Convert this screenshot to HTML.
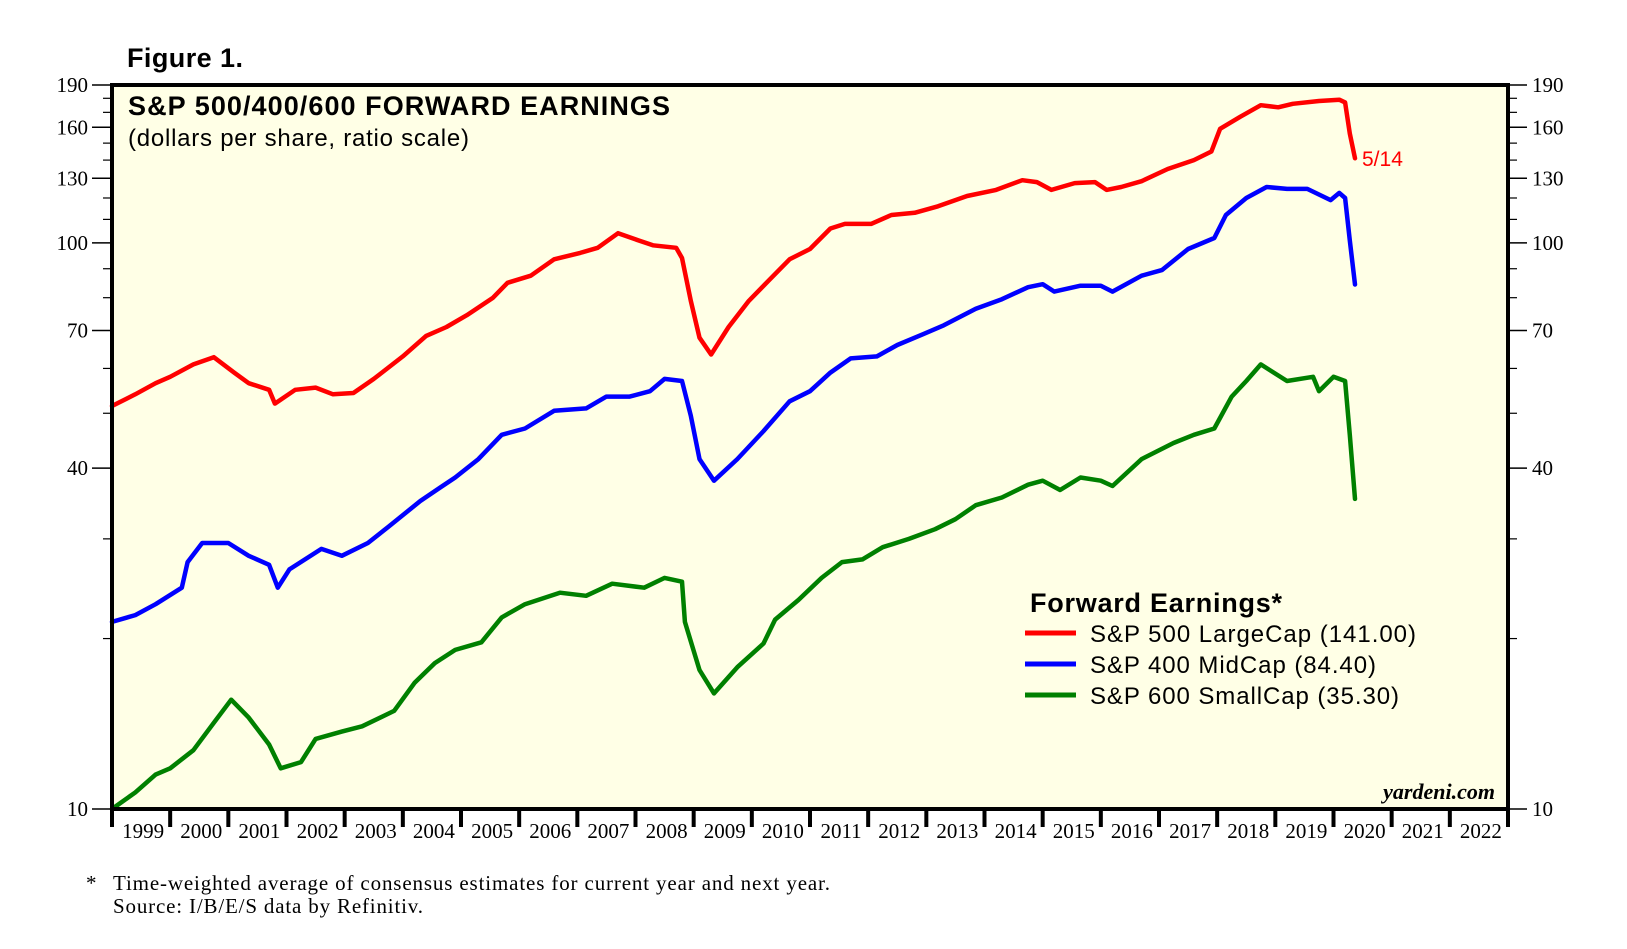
<!DOCTYPE html>
<html><head><meta charset="utf-8"><style>
html,body{margin:0;padding:0;background:#fff;}
svg{display:block;}
</style></head><body>
<svg id="chart" width="1627" height="949" viewBox="0 0 1627 949" xmlns="http://www.w3.org/2000/svg">
<text x="127" y="67" font-family="Liberation Sans, sans-serif" font-weight="bold" font-size="27" textLength="116">Figure 1.</text>
<rect x="112" y="85" width="1396" height="724" fill="#ffffe6"/>
<g id="series"></g>
<rect x="112" y="85" width="1396" height="724" fill="none" stroke="#000" stroke-width="4"/>
<text x="128" y="115" font-family="Liberation Sans, sans-serif" font-weight="bold" font-size="27" textLength="542">S&amp;P 500/400/600 FORWARD EARNINGS</text>
<text x="128" y="146" font-family="Liberation Sans, sans-serif" font-size="24" textLength="341">(dollars per share, ratio scale)</text>
<g id="axes"></g>
<text x="1362" y="166" font-family="Liberation Sans, sans-serif" font-size="21" fill="#ff0000">5/14</text>
<text x="1030" y="612" font-family="Liberation Sans, sans-serif" font-weight="bold" font-size="27" textLength="252">Forward Earnings*</text>
<line x1="1025" y1="633" x2="1076" y2="633" stroke="#ff0000" stroke-width="5"/>
<text x="1090" y="642" font-family="Liberation Sans, sans-serif" font-size="24" textLength="326">S&amp;P 500 LargeCap (141.00)</text>
<line x1="1025" y1="664" x2="1076" y2="664" stroke="#0000ff" stroke-width="5"/>
<text x="1090" y="673" font-family="Liberation Sans, sans-serif" font-size="24" textLength="286">S&amp;P 400 MidCap (84.40)</text>
<line x1="1025" y1="695" x2="1076" y2="695" stroke="#008000" stroke-width="5"/>
<text x="1090" y="704" font-family="Liberation Sans, sans-serif" font-size="24" textLength="309">S&amp;P 600 SmallCap (35.30)</text>
<text x="1495" y="799" text-anchor="end" font-family="Liberation Serif, serif" font-style="italic" font-weight="bold" font-size="22">yardeni.com</text>
<text x="86" y="890" font-family="Liberation Serif, serif" font-size="21">*</text>
<text x="113" y="890" font-family="Liberation Serif, serif" font-size="21" textLength="717">Time-weighted average of consensus estimates for current year and next year.</text>
<text x="113" y="913" font-family="Liberation Serif, serif" font-size="21" textLength="310">Source: I/B/E/S data by Refinitiv.</text>
</svg>
<script>
const yearLabels = [1999,2000,2001,2002,2003,2004,2005,2006,2007,2008,2009,2010,2011,2012,2013,2014,2015,2016,2017,2018,2019,2020,2021,2022];
const majorTicks = [190,160,130,100,70,40,10];
const minorTicks = [180,170,150,140,120,110,90,80,60,50,30,20];
const sp500Dates = [1999.0,1999.4,1999.75,2000.0,2000.4,2000.75,2001.1,2001.35,2001.7,2001.8,2002.15,2002.5,2002.8,2003.15,2003.5,2004.0,2004.4,2004.75,2005.1,2005.55,2005.8,2006.2,2006.6,2007.05,2007.35,2007.7,2008.05,2008.3,2008.7,2008.8,2008.95,2009.1,2009.3,2009.6,2009.95,2010.3,2010.65,2011.0,2011.35,2011.6,2012.05,2012.4,2012.8,2013.2,2013.7,2014.2,2014.65,2014.9,2015.15,2015.55,2015.9,2016.1,2016.35,2016.7,2017.15,2017.6,2017.9,2018.05,2018.4,2018.75,2019.05,2019.3,2019.75,2020.1,2020.2,2020.28,2020.37];
const sp500Values = [51.5,54,56.5,58,61,62.8,59,56.5,55,52,55,55.5,54,54.3,57.5,63,68.5,71,74.5,80,85,87.5,93.5,96,98,104,101,99,98,94,79,68,63.5,71,79,86,93.5,97.5,106,108,108,112,113,116,121,124,129,128,124,127.5,128,124,125.5,128.5,135,140,145,159,167,175,173.5,176,178,179,177,156,141];
const sp400Dates = [1999.0,1999.4,1999.75,2000.2,2000.3,2000.55,2001.0,2001.35,2001.7,2001.85,2002.05,2002.6,2002.95,2003.4,2003.75,2004.3,2004.65,2004.9,2005.3,2005.7,2006.1,2006.6,2007.15,2007.5,2007.9,2008.25,2008.5,2008.8,2008.95,2009.1,2009.35,2009.75,2010.2,2010.65,2011.0,2011.35,2011.7,2012.15,2012.5,2012.95,2013.3,2013.85,2014.3,2014.75,2015.0,2015.2,2015.65,2016.0,2016.2,2016.7,2017.05,2017.5,2017.95,2018.15,2018.5,2018.85,2019.2,2019.55,2019.95,2020.1,2020.2,2020.28,2020.37];
const sp400Values = [21.4,22,23,24.6,27.3,29.5,29.5,28,27,24.6,26.5,28.8,28,29.5,31.5,35,37,38.5,41.5,45.8,47,50.5,51,53.5,53.5,54.7,57.5,57,49.5,41.5,38,41.5,46.5,52.5,54.7,59,62.5,63,66,69,71.5,76.5,79.5,83.5,84.5,82,84,84,82,87.5,89.5,97.5,102,112,120,125.5,124.5,124.5,119,122.5,120,101,84.4];
const sp600Dates = [1999.0,1999.4,1999.75,2000.0,2000.4,2000.75,2001.05,2001.35,2001.7,2001.9,2002.25,2002.5,2002.95,2003.3,2003.85,2004.2,2004.55,2004.9,2005.35,2005.7,2006.1,2006.7,2007.15,2007.6,2008.15,2008.5,2008.8,2008.85,2009.1,2009.35,2009.75,2010.2,2010.4,2010.8,2011.2,2011.55,2011.9,2012.25,2012.7,2013.15,2013.5,2013.85,2014.3,2014.75,2015.0,2015.3,2015.65,2016.0,2016.2,2016.7,2017.25,2017.6,2017.95,2018.25,2018.5,2018.75,2019.2,2019.65,2019.75,2020.0,2020.2,2020.28,2020.37];
const sp600Values = [10,10.7,11.5,11.8,12.7,14.2,15.6,14.5,13,11.8,12.1,13.3,13.7,14,14.9,16.7,18.1,19.1,19.7,21.8,23,24.1,23.8,25,24.6,25.6,25.2,21.4,17.6,16,17.8,19.6,21.6,23.4,25.6,27.3,27.6,29,30,31.2,32.5,34.4,35.5,37.4,38,36.6,38.5,38,37.2,41.5,44.3,45.8,47,53.5,57,61,57,58,54.7,58,57,45.8,35.3];

const NS = 'http://www.w3.org/2000/svg';
const L = 112, R = 1508, T = 85, B = 809;
const X0 = 1999, X1 = 2023, VMIN = 10, VMAX = 190;
function xScale(t){ return L + (t - X0) / (X1 - X0) * (R - L); }
function yScale(v){ return B - (Math.log(v / VMIN) / Math.log(VMAX / VMIN)) * (B - T); }
function mk(tag, attrs){ const e = document.createElementNS(NS, tag); for (const k in attrs) e.setAttribute(k, attrs[k]); return e; }

const axes = document.getElementById('axes');
majorTicks.forEach(v => {
  const y = yScale(v);
  const lt = mk('line', {x1: 92, x2: L, y1: y, y2: y, stroke: '#000', 'stroke-width': 1.5});
  
  
  axes.appendChild(lt);
  const rt = mk('line', {x1: R, x2: 1527, y1: y, y2: y, stroke: '#000', 'stroke-width': 1.5});
  
  
  axes.appendChild(rt);
  const ll = mk('text', {x: 88, y: y + 7, 'text-anchor': 'end', 'font-family': 'Liberation Serif, serif', 'font-size': 21});
  ll.textContent = v;
  
  
  axes.appendChild(ll);
  const rl = mk('text', {x: 1532, y: y + 7, 'font-family': 'Liberation Serif, serif', 'font-size': 21});
  rl.textContent = v;
  
  
  axes.appendChild(rl);
});
minorTicks.forEach(v => {
  const y = yScale(v);
  const lt = mk('line', {x1: 103, x2: L, y1: y, y2: y, stroke: '#000', 'stroke-width': 1.2});
  
  
  axes.appendChild(lt);
  const rt = mk('line', {x1: R, x2: 1517, y1: y, y2: y, stroke: '#000', 'stroke-width': 1.2});
  
  
  axes.appendChild(rt);
});
for (let i = 0; i <= yearLabels.length; i++) {
  const x = xScale(X0 + i);
  const t = mk('line', {x1: x, x2: x, y1: B, y2: 827, stroke: '#000', 'stroke-width': 4});
  
  
  axes.appendChild(t);
}
yearLabels.forEach(yr => {
  const x = (xScale(yr) + xScale(yr + 1)) / 2 + 2;
  const tl = mk('text', {x: x, y: 838, 'text-anchor': 'middle', 'font-family': 'Liberation Serif, serif', 'font-size': 21});
  tl.textContent = yr;
  
  
  axes.appendChild(tl);
});

const g = document.getElementById('series');
function drawLine(dates, vals, color, name){
  const d = dates.map((t, i) => (i ? 'L' : 'M') + xScale(t).toFixed(1) + ',' + yScale(vals[i]).toFixed(1)).join(' ');
  const p = mk('path', {d: d, fill: 'none', stroke: color, 'stroke-width': 4.5, 'stroke-linejoin': 'round', 'stroke-linecap': 'round'});
  
  
  g.appendChild(p);
}
drawLine(sp500Dates, sp500Values, '#ff0000', 'sp500-largecap-line');
drawLine(sp400Dates, sp400Values, '#0000ff', 'sp400-midcap-line');
drawLine(sp600Dates, sp600Values, '#008000', 'sp600-smallcap-line');
</script>
</body></html>
